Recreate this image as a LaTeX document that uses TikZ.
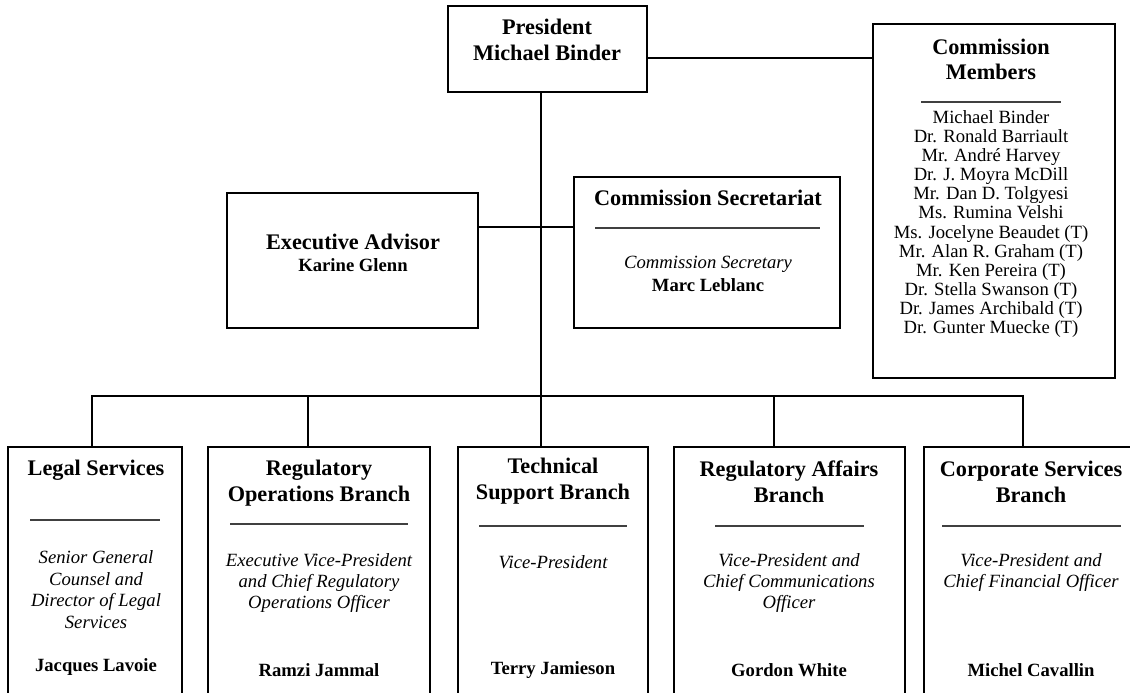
\documentclass[tikz,border=0pt]{standalone}
\usepackage{fontspec}
\setmainfont{Liberation Serif}
\usetikzlibrary{fit}
\begin{document}
\begin{tikzpicture}[x=0.75pt,y=-0.75pt,
  box/.style={draw=black,line width=1.1pt,inner sep=0pt,outer sep=0pt},
  conn/.style={draw=black,line width=1.1pt},
  uline/.style={draw=black!75,line width=0.8pt},
  ttl/.style={font=\fontsize{16.7}{19.5}\selectfont\bfseries,align=center,inner sep=0pt},
  nm/.style={font=\fontsize{14}{16}\selectfont\bfseries,align=center,inner sep=0pt},
  rl/.style={font=\fontsize{14}{16}\selectfont\itshape,align=center,inner sep=0pt},
  mem/.style={font=\fontsize{14}{14.32}\selectfont,align=center,inner sep=0pt}]
\useasboundingbox (0,0) rectangle (1130,692);
\fill[white] (0,0) rectangle (1130,692);
\clip (0,0) rectangle (1130,692);

% boxes
\node[box,fit={(448,6)(647,92)}] (pres) {};
\node[box,fit={(873,24)(1115,378)}] (comm) {};
\node[box,fit={(227,193)(478,328)}] (exec) {};
\node[box,fit={(574,177)(840,328)}] (sec) {};
\node[box,fit={(8,447)(182,702)}] (legal) {};
\node[box,fit={(208,447)(430,702)}] (regops) {};
\node[box,fit={(458,447)(648,702)}] (tech) {};
\node[box,fit={(674,447)(905,702)}] (regaff) {};
\node[box,fit={(924,447)(1140,702)}] (corp) {};

% connectors
\coordinate (busC) at (541,396);
\coordinate (busL) at (92,396);
\coordinate (busR) at (1023,396);
\coordinate (busB) at (308,396);
\coordinate (busD) at (774,396);
\draw[conn] (pres.east |- 0,58) -- (comm.west |- 0,58);
\draw[conn] (pres.south -| busC) -- (busC);
\draw[conn] (exec.east |- 0,227) -- (sec.west |- 0,227);
\draw[conn,line join=miter] (legal.north -| busL) -- (busL) -- (busR) -- (corp.north -| busR);
\draw[conn] (busB) -- (regops.north -| busB);
\draw[conn] (busC) -- (tech.north -| busC);
\draw[conn] (busD) -- (regaff.north -| busD);

% president
\node[ttl] (presT) at (547,40) {President\\Michael Binder};

% commission members
\node[ttl,font=\fontsize{16.7}{18.8}\selectfont\bfseries] (commT) at (991,59.5) {Commission\\Members};
\draw[uline] (921,102) -- (1061,102);
\node[mem] (commL) at (991,224) {Michael Binder\\Dr. Ronald Barriault\\Mr. André Harvey\\Dr. J. Moyra McDill\\Mr. Dan D. Tolgyesi\\Ms. Rumina Velshi\\Ms. Jocelyne Beaudet (T)\\Mr. Alan R. Graham (T)\\Mr. Ken Pereira (T)\\Dr. Stella Swanson (T)\\Dr. James Archibald (T)\\Dr. Gunter Muecke (T)};

% executive advisor
\node[ttl] (execT) at (353,242) {Executive Advisor};
\node[nm] (execN) at (353,265) {Karine Glenn};

% secretariat
\node[ttl] (secT) at (708,198) {Commission Secretariat};
\draw[uline] (595,228) -- (820,228);
\node[rl] (secR) at (708,264) {Commission Secretary};
\node[nm] (secN) at (708,285) {Marc Leblanc};

% legal
\node[ttl] (legalT) at (96,470) {Legal Services};
\draw[uline] (30,520) -- (160,520);
\node[rl,font=\fontsize{14}{16.2}\selectfont\itshape] (legalR) at (96,589.5) {Senior General\\Counsel and\\Director of Legal\\Services};
\node[nm] (legalN) at (96,667) {Jacques Lavoie};

% regulatory operations
\node[ttl] (regopsT) at (319,483) {Regulatory\\Operations Branch};
\draw[uline] (230,524) -- (408,524);
\node[rl] (regopsR) at (319,583) {Executive Vice-President\\and Chief Regulatory\\Operations Officer};
\node[nm] (regopsN) at (319,670) {Ramzi Jammal};

% technical support
\node[ttl] (techT) at (553,481.5) {Technical\\Support Branch};
\draw[uline] (479,526) -- (627,526);
\node[rl] (techR) at (553,562) {Vice-President};
\node[nm] (techN) at (553,670) {Terry Jamieson};

% regulatory affairs
\node[ttl] (regaffT) at (789,482) {Regulatory Affairs\\Branch};
\draw[uline] (715,526) -- (864,526);
\node[rl] (regaffR) at (789,583) {Vice-President and\\Chief Communications\\Officer};
\node[nm] (regaffN) at (789,670) {Gordon White};

% corporate services
\node[ttl] (corpT) at (1031,482) {Corporate Services\\Branch};
\draw[uline] (942,526) -- (1121,526);
\node[rl] (corpR) at (1031,572.5) {Vice-President and\\Chief Financial Officer};
\node[nm] (corpN) at (1031,670) {Michel Cavallin};
\end{tikzpicture}
\end{document}
